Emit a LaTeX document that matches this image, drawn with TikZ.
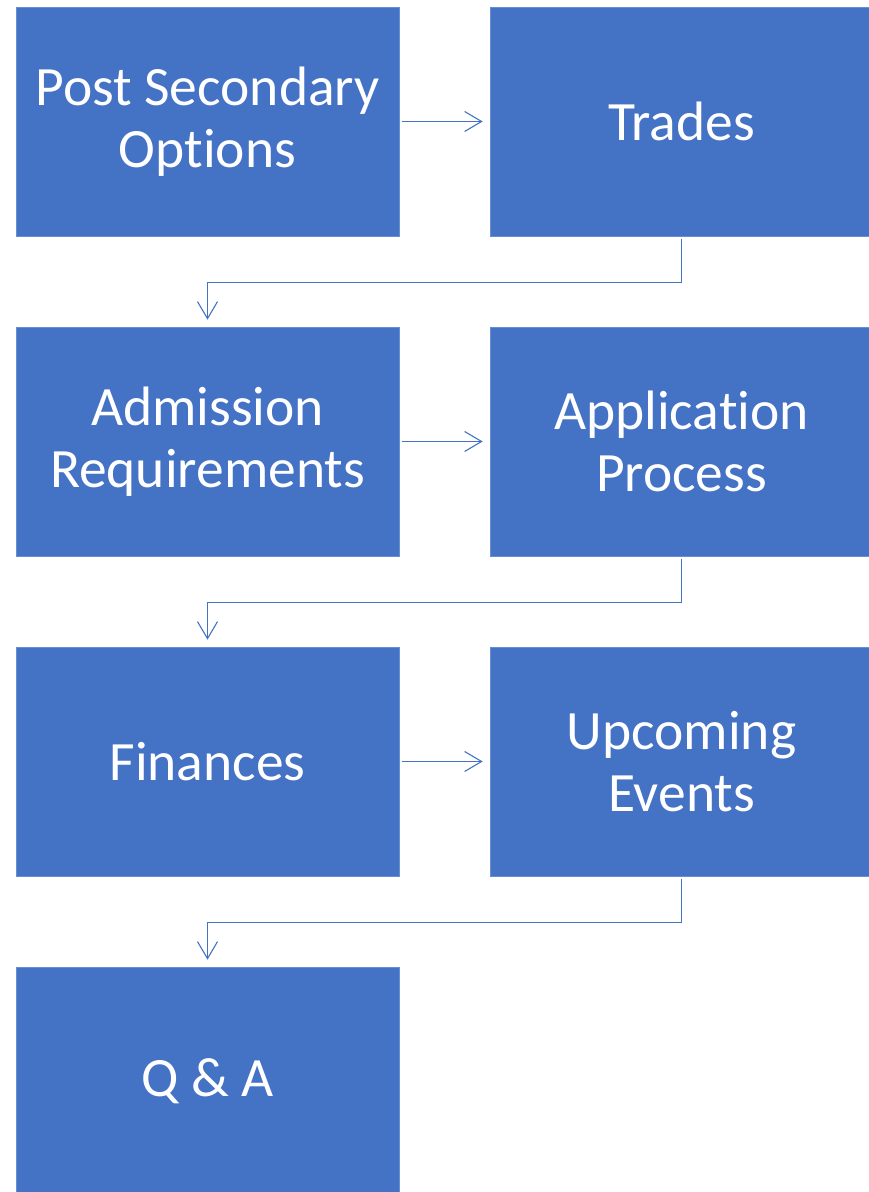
\documentclass[tikz,border=0pt]{standalone}
\usepackage{fontspec}
\setmainfont{Carlito}[Ligatures=CommonOff]
\usetikzlibrary{arrows.meta}
\definecolor{officeblue}{HTML}{4472C4}
\begin{document}
\begin{tikzpicture}[x=1pt,y=1pt,
  box/.style={rectangle, fill=officeblue, draw=officeblue!80!white, line width=0.6pt,
    minimum width=383pt, minimum height=229pt, inner sep=0pt,
    text=white, align=center, font=\fontsize{55.5}{62}\selectfont},
  conn/.style={draw=officeblue, line width=1.1pt,
    -{Straight Barb[length=17pt,width=20pt,line width=1.1pt]},
    shorten <=3pt, shorten >=7pt}]
\clip (0,0) rectangle (869,1192);
\fill[white] (0,0) rectangle (869,1192);
\node[box] (a) at (207.5,1070.5) {Post Secondary\\Options};
\node[box] (b) at (681.5,1070.5) {Trades};
\node[box] (c) at (207.5,750.5) {Admission\\Requirements};
\node[box] (d) at (681.5,750.5) {Application\\Process};
\node[box] (e) at (207.5,430.5) {Finances};
\node[box] (f) at (681.5,430.5) {Upcoming\\Events};
\node[box] (g) at (207.5,110.5) {Q \& A};
\draw[conn] (a.east) -- (b.west);
\draw[conn] (c.east) -- (d.west);
\draw[conn] (e.east) -- (f.west);
\draw[conn] (b.south) -- ++(0,-46) -| (c.north);
\draw[conn] (d.south) -- ++(0,-46) -| (e.north);
\draw[conn] (f.south) -- ++(0,-46) -| (g.north);
\end{tikzpicture}
\end{document}
